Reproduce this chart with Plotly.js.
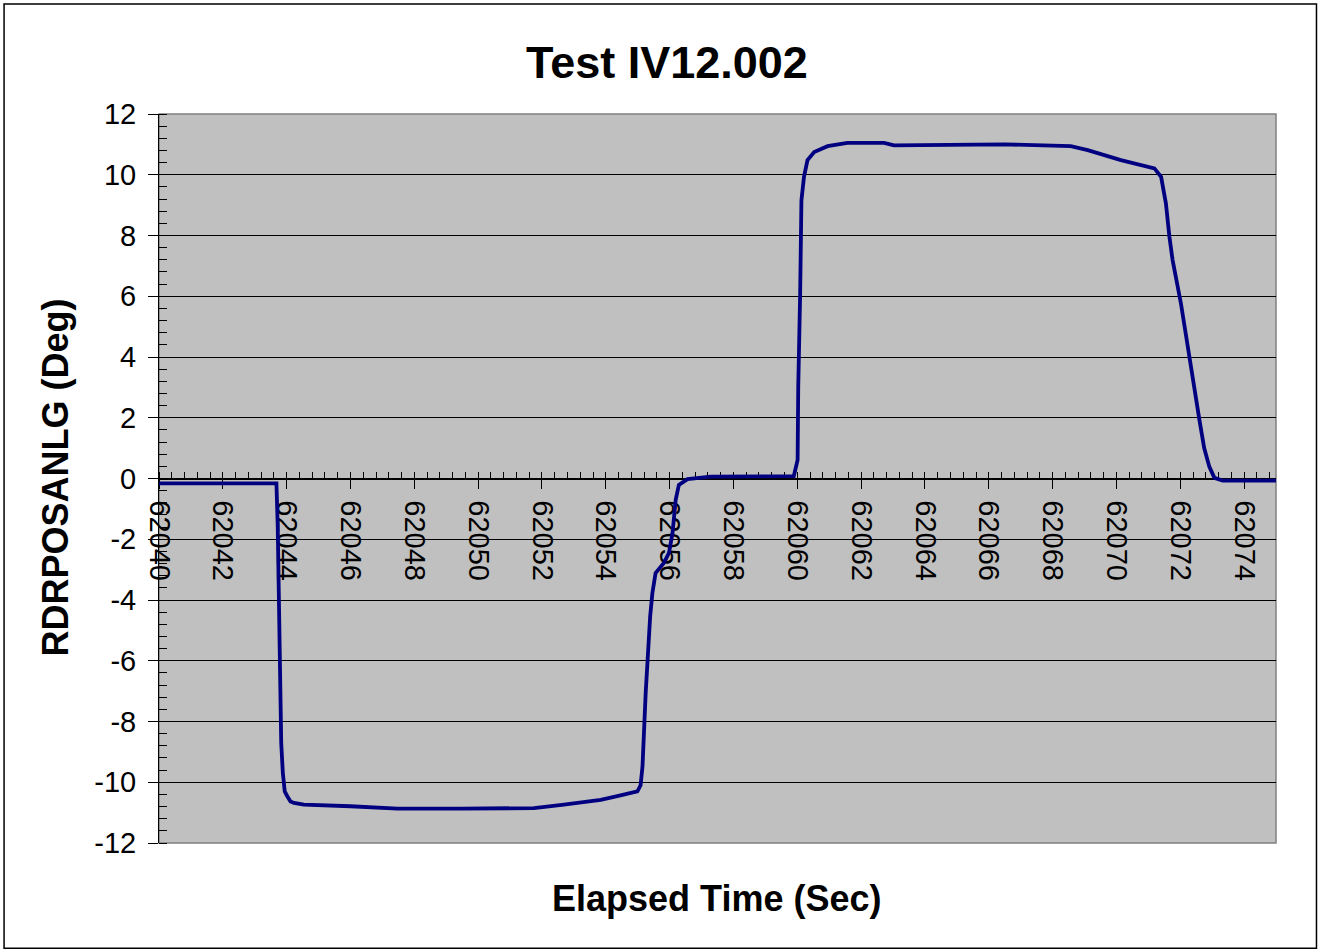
<!DOCTYPE html>
<html>
<head>
<meta charset="utf-8">
<script src="https://cdn.plot.ly/plotly-3.0.1.min.js"></script>
<style>html,body{margin:0;padding:0;background:#fff;}#chart{width:1319px;height:949px;}</style>
</head>
<body>
<div id="chart"></div>
<script>
// Elapsed time (sec)
const elapsedTime = [62040.0, 62043.68, 62043.72, 62043.79, 62043.83, 62043.88, 62043.94, 62044.02, 62044.12, 62044.23,
  62044.54, 62046.0, 62047.47, 62049.5, 62051.44, 62051.75, 62052.69, 62053.42, 62053.84, 62054.36,
  62054.87, 62054.99, 62055.09, 62055.15, 62055.25, 62055.30, 62055.39, 62055.46, 62055.56, 62055.82,
  62055.98, 62056.09, 62056.19, 62056.29, 62056.56, 62057.29, 62059.89, 62060.01, 62060.03, 62060.09,
  62060.13, 62060.21, 62060.32, 62060.53, 62060.95, 62061.57, 62062.72, 62063.03, 62066.48, 62068.57,
  62069.10, 62070.14, 62071.19, 62071.40, 62071.55, 62071.66, 62071.76, 62072.02, 62072.23, 62072.39,
  62072.60, 62072.75, 62072.91, 62073.07, 62073.33, 62075.0];
// RDRPOSANLG (deg)
const rdrPosAnlg = [-0.16, -0.16, -1.58, -5.31, -8.71, -9.69, -10.3, -10.46, -10.63, -10.68,
  -10.74, -10.79, -10.87, -10.87, -10.87, -10.85, -10.74, -10.63, -10.58, -10.46,
  -10.35, -10.3, -10.1, -9.48, -7.06, -5.97, -4.54, -3.77, -3.11, -2.78,
  -2.45, -1.8, -0.7, -0.21, -0.02, 0.06, 0.08, 0.61, 3.02, 6.1,
  9.16, 9.93, 10.48, 10.75, 10.94, 11.05, 11.05, 10.97, 11.0, 10.94,
  10.81, 10.48, 10.21, 9.93, 9.06, 7.96, 7.19, 5.77, 4.34, 3.24,
  1.93, 1.0, 0.39, 0.02, -0.07, -0.07];

// Y tick labels (hyphen minus, as in the original)
const yTickVals = [-12, -10, -8, -6, -4, -2, 0, 2, 4, 6, 8, 10, 12];
const yTickText = ['-12', '-10', '-8', '-6', '-4', '-2', '0', '2', '4', '6', '8', '10', '12'];

const chartTitle = 'Test IV12.002';
const xTitle = 'Elapsed Time (Sec)';
const yTitle = 'RDRPOSANLG (Deg)';

const FONT = 'Arial, "Liberation Sans", sans-serif';
const L = 158.5, R = 1276, T = 114, B = 843.3;
const W = R - L, H = B - T;
const px = p => (p - L) / W;
const py = p => (B - p) / H;

const trace = {
  x: elapsedTime, y: rdrPosAnlg, type: 'scatter', mode: 'lines',
  line: {color: '#000080', width: 3.8}, hoverinfo: 'x+y', showlegend: false
};

const layout = {
  width: 1319, height: 949,
  margin: {l: L, r: 1319 - R, t: T, b: 949 - B, pad: 0},
  paper_bgcolor: '#ffffff', plot_bgcolor: '#c0c0c0',
  font: {family: FONT, color: '#000'},
  showlegend: false,
  xaxis: {
    range: [62040, 62075], tick0: 62040, dtick: 2, tickformat: 'd',
    anchor: 'free', position: 0.5, layer: 'below traces',
    showgrid: false, zeroline: false,
    showline: true, linecolor: '#000', linewidth: 1,
    ticks: 'outside', ticklen: 9, tickcolor: '#000', tickwidth: 1,
    tickangle: 90, ticklabelstandoff: 6,
    tickfont: {size: 29, family: FONT, color: '#000'},
    minor: {dtick: 0.4, ticks: 'inside', ticklen: 7, tickcolor: '#000', tickwidth: 1, showgrid: false},
    fixedrange: true
  },
  yaxis: {
    range: [-12, 12], tickmode: 'array', tickvals: yTickVals, ticktext: yTickText,
    showgrid: true, gridcolor: '#000', gridwidth: 1, zeroline: false,
    showline: true, linecolor: '#000', linewidth: 1,
    ticks: 'outside', ticklen: 10, tickcolor: '#000', tickwidth: 1,
    ticklabelstandoff: 6,
    tickfont: {size: 29, family: FONT, color: '#000'},
    minor: {tick0: 0, dtick: 0.4, ticks: 'inside', ticklen: 8, tickcolor: '#000', tickwidth: 1, showgrid: false},
    fixedrange: true
  },
  shapes: [
    {type: 'rect', xref: 'paper', yref: 'paper', x0: 0, x1: 1, y0: 0, y1: 1,
     line: {color: '#808080', width: 1.5}, fillcolor: 'rgba(0,0,0,0)', layer: 'below'},
    {type: 'rect', xref: 'paper', yref: 'paper', x0: px(3.5), x1: px(1316.5), y0: py(948.5), y1: py(4),
     line: {color: '#000', width: 1.5}, fillcolor: 'rgba(0,0,0,0)', layer: 'below'}
  ],
  annotations: [
    {text: '<b>' + chartTitle + '</b>', xref: 'paper', yref: 'paper', x: px(667), y: py(62),
     xanchor: 'center', yanchor: 'middle', showarrow: false, font: {size: 45, family: FONT, color: '#000'}},
    {text: '<b>' + xTitle + '</b>', xref: 'paper', yref: 'paper', x: px(716), y: py(899),
     xanchor: 'center', yanchor: 'middle', showarrow: false, font: {size: 36, family: FONT, color: '#000'}},
    {text: '<b>' + yTitle + '</b>', xref: 'paper', yref: 'paper', x: px(55), y: py(478),
     xanchor: 'center', yanchor: 'middle', textangle: -90, showarrow: false, font: {size: 36, family: FONT, color: '#000'}}
  ]
};

Plotly.newPlot('chart', [trace], layout, {displayModeBar: false, staticPlot: true});
</script>
</body>
</html>
